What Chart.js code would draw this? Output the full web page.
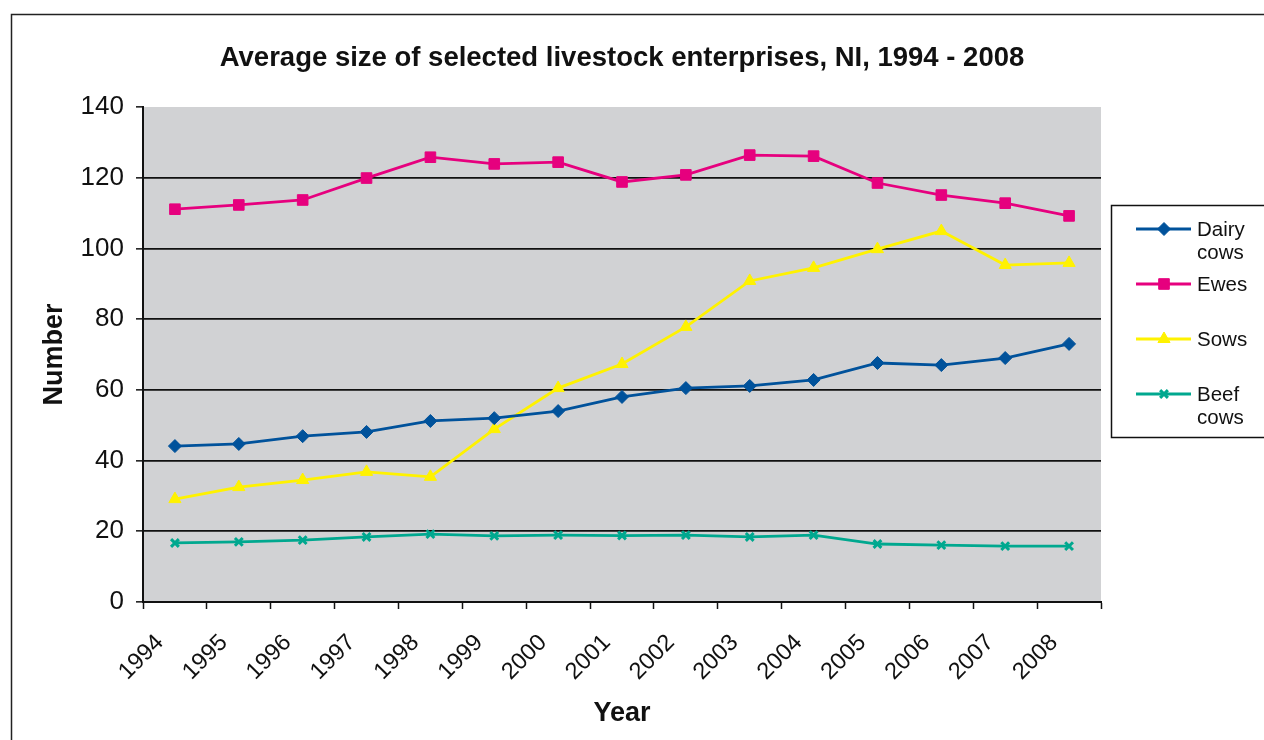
<!DOCTYPE html>
<html>
<head>
<meta charset="utf-8">
<script src="https://cdn.jsdelivr.net/npm/chart.js@4/dist/chart.umd.min.js"></script>
<style>
  html, body { margin: 0; padding: 0; background: #fff; }
  #wrap { width: 1264px; height: 740px; position: relative; }
</style>
</head>
<body>
<div id="wrap"><canvas id="livestock"></canvas></div>
<script>
'use strict';

const years = ['1994', '1995', '1996', '1997', '1998', '1999', '2000', '2001',
  '2002', '2003', '2004', '2005', '2006', '2007', '2008'];
const dairyCows = [44.1, 44.7, 46.9, 48.1, 51.2, 52.0, 54.0, 58.0, 60.5, 61.1, 62.8, 67.6, 67.0, 69.0, 73.0];
const ewes = [111.1, 112.3, 113.7, 119.9, 125.8, 123.9, 124.4, 118.8, 120.8, 126.4, 126.1, 118.5, 115.1, 112.8, 109.2];
const sows = [29.1, 32.5, 34.5, 36.8, 35.4, 48.9, 60.5, 67.3, 77.8, 90.8, 94.5, 99.8, 104.9, 95.3, 95.9];
const beefCows = [16.7, 17.0, 17.5, 18.4, 19.2, 18.7, 18.9, 18.8, 18.9, 18.4, 18.9, 16.4, 16.1, 15.8, 15.8];
const seriesNames = [['Dairy', 'cows'], ['Ewes'], ['Sows'], ['Beef', 'cows']];

const FONT = "'Liberation Sans', Arial, Helvetica, sans-serif";

function makeSet(label, data, color, style, radius) {
  return {
    label: label,
    data: data,
    borderColor: color,
    backgroundColor: color,
    borderWidth: 2.8,
    pointStyle: style,
    pointRadius: radius,
    pointHoverRadius: radius,
    pointBorderWidth: style === 'crossRot' ? 3 : 1,
    tension: 0
  };
}

// grey plot area and the outer frame
const backdrop = {
  id: 'backdrop',
  beforeDraw(chart) {
    const ctx = chart.ctx, a = chart.chartArea;
    ctx.save();
    ctx.fillStyle = '#fff';
    ctx.fillRect(0, 0, chart.width, chart.height);
    ctx.strokeStyle = '#222';
    ctx.lineWidth = 1.5;
    ctx.strokeRect(11.5, 14.5, chart.width + 20, chart.height + 20);
    ctx.fillStyle = '#d1d2d4';
    ctx.fillRect(a.left, a.top, a.right - a.left, a.bottom - a.top);
    ctx.restore();
  }
};

// boxed legend with wrapped labels, like the original
const boxLegend = {
  id: 'boxLegend',
  afterDraw(chart) {
    const ctx = chart.ctx;
    const rows = [229, 284, 339, 394];
    ctx.save();
    ctx.strokeStyle = '#111';
    ctx.lineWidth = 1.5;
    ctx.strokeRect(1111.5, 205.5, 200, 232);
    ctx.font = '20.5px ' + FONT;
    ctx.textBaseline = 'middle';
    chart.data.datasets.forEach((ds, i) => {
      const y = rows[i];
      ctx.strokeStyle = ds.borderColor;
      ctx.lineWidth = 2.8;
      ctx.beginPath();
      ctx.moveTo(1136, y);
      ctx.lineTo(1191, y);
      ctx.stroke();
      ctx.fillStyle = ds.backgroundColor;
      ctx.lineWidth = ds.pointBorderWidth;
      Chart.helpers.drawPoint(ctx, {
        pointStyle: ds.pointStyle, radius: ds.pointRadius, rotation: 0,
        borderWidth: ds.pointBorderWidth
      }, 1164, y);
      ctx.fillStyle = '#111';
      seriesNames[i].forEach((t, k) => ctx.fillText(t, 1197, y + 1 + k * 23));
    });
    ctx.restore();
  }
};

const ctx = document.getElementById('livestock');
const chart = new Chart(ctx, {
  type: 'line',
  data: {
    labels: years,
    datasets: [
      makeSet('Dairy cows', dairyCows, '#00529b', 'rectRot', 6.5),
      makeSet('Ewes', ewes, '#e6007e', 'rect', 7.5),
      makeSet('Sows', sows, '#fff200', 'triangle', 7),
      makeSet('Beef cows', beefCows, '#00a88f', 'crossRot', 5.5)
    ]
  },
  options: {
    responsive: true,
    maintainAspectRatio: false,
    animation: false,
    layout: { padding: { left: 0, right: 163, top: 0, bottom: 0 } },
    plugins: {
      legend: { display: false },
      tooltip: { enabled: false },
      title: {
        display: true,
        fullSize: false,
        text: 'Average size of selected livestock enterprises, NI, 1994 - 2008',
        color: '#111',
        font: { family: FONT, size: 27.5, weight: 'bold', lineHeight: 1.2 },
        padding: { top: 42, bottom: 32 }
      }
    },
    scales: {
      x: {
        offset: true,
        grid: { offset: true, drawOnChartArea: false, tickLength: 7, tickColor: '#111', tickWidth: 1.5 },
        border: { color: '#111', width: 2 },
        ticks: {
          color: '#111', minRotation: 45, maxRotation: 45, padding: 20, labelOffset: -15,
          font: { family: FONT, size: 23.5 }
        },
        title: {
          display: true, text: 'Year', color: '#111',
          font: { family: FONT, size: 27, weight: 'bold', lineHeight: 1.2 },
          padding: { top: 0, bottom: 10 }
        },
        afterFit(scale) { scale.height = 138; }
      },
      y: {
        min: 0, max: 140,
        grid: {
          color: c => (c.tick && c.tick.value === 140) ? 'rgba(0,0,0,0)' : '#111',
          lineWidth: 1.7, tickLength: 7, tickColor: '#111', tickWidth: 1.5
        },
        border: { color: '#111', width: 2 },
        ticks: {
          stepSize: 20, color: '#111', padding: 12,
          font: { family: FONT, size: 26 }
        },
        title: {
          display: true, text: 'Number', color: '#111',
          font: { family: FONT, size: 27, weight: 'bold', lineHeight: 1.2 },
          padding: { top: 38, bottom: 0 }
        },
        afterFit(scale) { scale.width = 143; }
      }
    }
  },
  plugins: [backdrop, boxLegend]
});
</script>
</body>
</html>
